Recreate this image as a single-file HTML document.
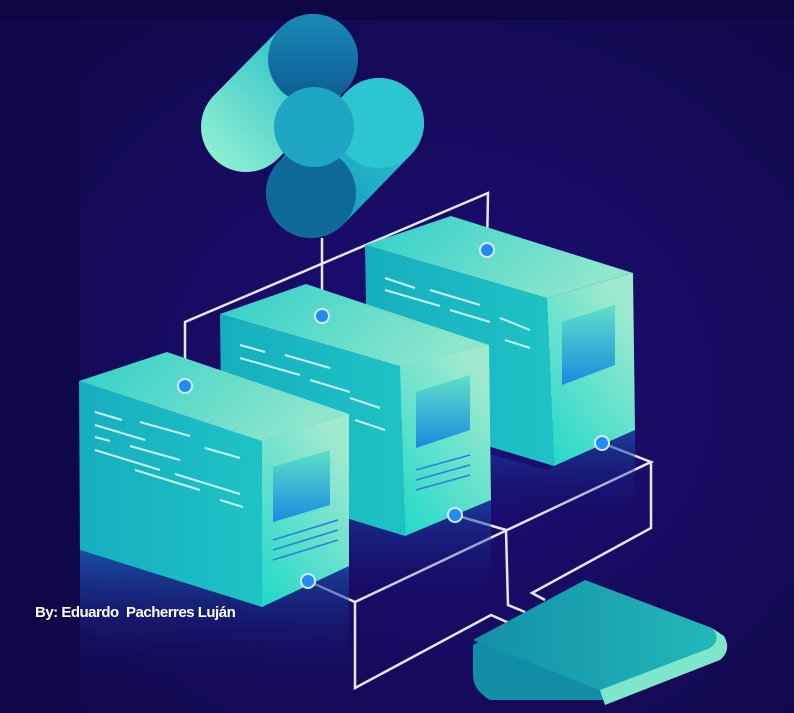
<!DOCTYPE html>
<html><head><style>
html,body{margin:0;padding:0;background:#120852;}
svg{display:block}
</style></head><body>
<svg width="794" height="713" viewBox="0 0 794 713" xmlns="http://www.w3.org/2000/svg">
<defs>
<radialGradient id="bg" cx="0.55" cy="0.55" r="0.7">
<stop offset="0" stop-color="#1d0e7a"/><stop offset="1" stop-color="#100848"/></radialGradient>
<linearGradient id="top" x1="0" y1="0" x2="1" y2="0.3"><stop offset="0" stop-color="#2fcfc8"/><stop offset="1" stop-color="#8de6cc"/></linearGradient>
<linearGradient id="left" x1="0" y1="0" x2="1" y2="0"><stop offset="0" stop-color="#16aebf"/><stop offset="1" stop-color="#1ec3c6"/></linearGradient>
<linearGradient id="right" x1="0" y1="1" x2="0.6" y2="0"><stop offset="0" stop-color="#1fd8c8"/><stop offset="1" stop-color="#9fe9cf"/></linearGradient>
<linearGradient id="refl" x1="0" y1="0" x2="0" y2="1"><stop offset="0" stop-color="#1a5fb8" stop-opacity="0.8"/><stop offset="1" stop-color="#160a6a" stop-opacity="0"/></linearGradient>
<linearGradient id="scr" x1="0" y1="0" x2="0" y2="1"><stop offset="0" stop-color="#5fe0c8"/><stop offset="1" stop-color="#1a8ae0"/></linearGradient>
<linearGradient id="lg1" gradientUnits="userSpaceOnUse" x1="210" y1="160" x2="330" y2="40"><stop offset="0" stop-color="#8ff0d0"/><stop offset="1" stop-color="#1fb8c8"/></linearGradient>
<linearGradient id="lg3" gradientUnits="userSpaceOnUse" x1="420" y1="90" x2="300" y2="230"><stop offset="0" stop-color="#2ed2d6"/><stop offset="1" stop-color="#1590b8"/></linearGradient>
<linearGradient id="lg2" x1="0" y1="0" x2="0" y2="1"><stop offset="0" stop-color="#1a8ab8"/><stop offset="1" stop-color="#0e5a90"/></linearGradient>
<linearGradient id="dev" x1="0" y1="0" x2="1" y2="0"><stop offset="0" stop-color="#138fa8"/><stop offset="1" stop-color="#22b8b8"/></linearGradient>
</defs>
<rect width="794" height="713" fill="url(#bg)"/>
<rect width="80" height="713" fill="#0f0748"/>
<rect width="794" height="20" fill="#0e0644"/>

<!-- logo -->
<g>
<line x1="313" y1="59" x2="246" y2="127" stroke="url(#lg1)" stroke-width="90" stroke-linecap="round"/>
<circle cx="313" cy="59" r="45" fill="url(#lg2)"/>
<line x1="379" y1="123" x2="311" y2="193" stroke="url(#lg3)" stroke-width="90" stroke-linecap="round"/>
<circle cx="311" cy="193" r="45" fill="#0e6a98"/>
<circle cx="379" cy="123" r="45" fill="#2cc6d2"/>
<circle cx="314" cy="127" r="40" fill="#1ea6c2"/>
</g>

<!-- lines -->
<g fill="none" stroke="#e6e6f5" stroke-width="2.5">
<polyline points="322,238 322,316"/>
<polyline points="185,386 185,322 488,193 487,250"/>
<polyline points="308,581 355,602 355,688 491,615 509,623"/>
<polyline points="355,602 651,462 602,443"/>
<polyline points="651,462 651,528 532,593 545,600"/>
<polyline points="455,515 506,530 508,605 525,612"/>
</g>

<!-- box3 -->
<g>
<polygon points="365,420 547,470 635,430 635,520 365,520" fill="url(#refl)"/>
<polygon points="365,245 547,298 554,466 368,410" fill="url(#left)"/>
<polygon points="547,298 633,273 635,430 554,466" fill="url(#right)"/>
<polygon points="365,245 451,216 633,273 547,298" fill="url(#top)"/>
<polygon points="562,322 615,305 615,365 562,385" fill="url(#scr)"/>
<g stroke="#c8f4ee" stroke-width="2"><line x1="385" y1="278" x2="415" y2="288"/><line x1="430" y1="290" x2="480" y2="305"/><line x1="385" y1="290" x2="440" y2="306"/><line x1="450" y1="310" x2="490" y2="322"/><line x1="500" y1="318" x2="530" y2="330"/><line x1="505" y1="340" x2="530" y2="348"/></g>
</g>
<!-- box2 -->
<g>
<polygon points="220,480 405,536 491,500 491,600 220,600" fill="url(#refl)"/>
<polygon points="220,314 400,366 405,536 222,480" fill="url(#left)"/>
<polygon points="400,366 489,345 491,500 405,536" fill="url(#right)"/>
<polygon points="220,314 306,284 489,345 400,366" fill="url(#top)"/>
<polygon points="416,392 470,375 470,430 416,448" fill="url(#scr)"/>
<g stroke="#c8f4ee" stroke-width="2"><line x1="240" y1="345" x2="265" y2="352"/><line x1="285" y1="355" x2="330" y2="368"/><line x1="240" y1="358" x2="300" y2="375"/><line x1="310" y1="380" x2="350" y2="392"/><line x1="350" y1="398" x2="380" y2="408"/><line x1="355" y1="420" x2="385" y2="430"/></g>
<g stroke="#2a7ee0" stroke-width="1.5"><line x1="416" y1="470" x2="470" y2="455"/><line x1="416" y1="480" x2="470" y2="465"/><line x1="416" y1="490" x2="470" y2="475"/></g>
</g>
<!-- box1 -->
<g>
<polygon points="80,550 262,607 349,566 349,680 80,680" fill="url(#refl)"/>
<polygon points="79,381 262,441 262,607 80,550" fill="url(#left)"/>
<polygon points="262,441 349,414 349,566 262,607" fill="url(#right)"/>
<polygon points="79,381 167,352 349,414 262,441" fill="url(#top)"/>
<polygon points="273,467 330,450 330,505 273,522" fill="url(#scr)"/>
<g stroke="#c8f4ee" stroke-width="2"><line x1="95" y1="412" x2="122" y2="420"/><line x1="140" y1="422" x2="190" y2="436"/><line x1="95" y1="425" x2="145" y2="440"/><line x1="95" y1="437" x2="110" y2="441"/><line x1="130" y1="446" x2="180" y2="460"/><line x1="95" y1="450" x2="160" y2="470"/><line x1="205" y1="448" x2="240" y2="458"/><line x1="135" y1="470" x2="200" y2="490"/><line x1="175" y1="474" x2="240" y2="494"/><line x1="220" y1="500" x2="243" y2="507"/></g>
<g stroke="#2a7ee0" stroke-width="1.5"><line x1="273" y1="540" x2="338" y2="520"/><line x1="273" y1="550" x2="338" y2="530"/><line x1="273" y1="560" x2="338" y2="540"/></g>
</g>

<!-- device -->
<g>
<path d="M473,645 L585,582 L715,630 Q728,640 715,652 L605,700 L490,700 Q473,690 473,675 Z" fill="#128fa6"/>
<path d="M473,640 L585,580 L712,628 Q722,640 710,648 L600,690 Z" fill="url(#dev)"/>
<path d="M600,690 L710,648 Q722,640 712,628 L724,636 Q732,650 720,660 L605,705 Z" fill="#7fe6cc"/>
</g>

<!-- dots -->
<g fill="#1e8cf0" stroke="#d8e8ff" stroke-width="2">
<circle cx="322" cy="316" r="7"/><circle cx="185" cy="386" r="7"/><circle cx="487" cy="250" r="7"/>
<circle cx="308" cy="581" r="7"/><circle cx="455" cy="515" r="7"/><circle cx="602" cy="443" r="7"/>
</g>

<text x="35" y="617" fill="#ffffff" font-family="Liberation Sans, sans-serif" font-weight="bold" font-size="15" letter-spacing="-0.5" xml:space="preserve">By: Eduardo  Pacherres Luján</text>
</svg>
</body></html>
